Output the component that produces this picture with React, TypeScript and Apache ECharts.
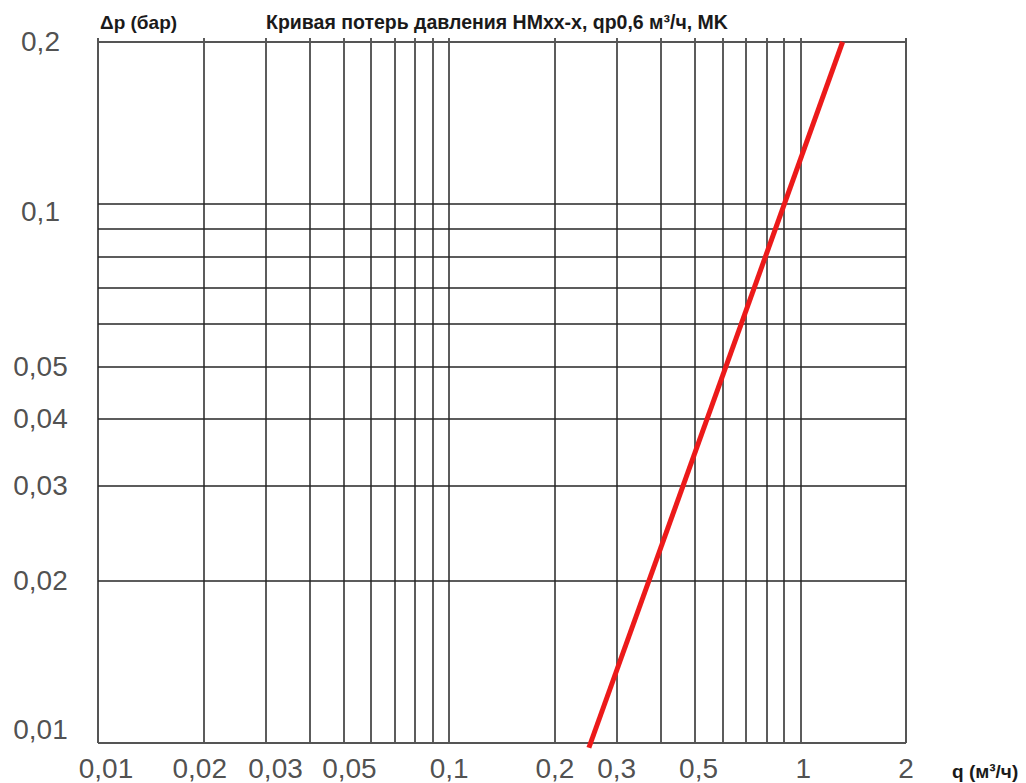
import React, { useEffect, useRef } from "react";
import * as echarts from "echarts";

// ---- data ----
const xGridValues = [0.01, 0.02, 0.03, 0.04, 0.05, 0.06, 0.07, 0.08, 0.09, 0.1, 0.2, 0.3, 0.4, 0.5, 0.6, 0.7, 0.8, 0.9, 1, 2];
const yGridValues = [0.01, 0.02, 0.03, 0.04, 0.05, 0.06, 0.07, 0.08, 0.09, 0.1, 0.2];
const xTickLabels = [0.01, 0.02, 0.03, 0.05, 0.1, 0.2, 0.3, 0.5, 1, 2];
const yTickLabels = [0.01, 0.02, 0.03, 0.04, 0.05, 0.1, 0.2];
// pressure loss curve: [q (м³/ч), Δp (бар)]
const lossCurve = [
  [0.25, 0.0098],
  [1.32, 0.2],
];
const titleText = "Кривая потерь давления HMxx-x, qp0,6 м³/ч, MK";
const yName = "Δp (бар)";
const xName = "q (м³/ч)";

// ---- style helpers ----
const FONT = "'Liberation Sans', Arial, sans-serif";
const fmt = (v: number) => String(v).replace(".", ",");
const xNudge: Record<string, number> = { "0.01": 8, "0.02": -4, "0.03": 10, "0.05": 6, "0.5": 4, "1": 3 };
const yNudge: Record<string, number> = { "0.01": -14, "0.1": 7 };

export default function App() {
  const ref = useRef<HTMLDivElement>(null);
  useEffect(() => {
    if (!ref.current) return;
    const chart = echarts.init(ref.current, undefined, { renderer: "svg" });
    const frameX = [0.01, 2];
    const frameY = [0.01, 0.2];
    const option: any = {
      animation: false,
      backgroundColor: "#ffffff",
      grid: { left: 98, right: 120, top: 38, bottom: 40, containLabel: false },
      xAxis: {
        type: "log",
        logBase: 10,
        min: 0.01,
        max: 2,
        axisLine: { show: false },
        axisTick: { show: false },
        axisLabel: { show: false },
        splitLine: { show: false },
      },
      yAxis: {
        type: "log",
        logBase: 10,
        min: 0.01,
        max: 0.2034,
        axisLine: { show: false },
        axisTick: { show: false },
        axisLabel: { show: false },
        splitLine: { show: false },
      },
      graphic: [
        {
          type: "text",
          x: 100,
          y: 22,
          style: { text: yName, font: `bold 19px ${FONT}`, fill: "#1a1a1a", verticalAlign: "middle" },
        },
        {
          type: "text",
          x: 266,
          y: 22,
          style: { text: titleText, font: `bold 19.5px ${FONT}`, fill: "#1a1a1a", verticalAlign: "middle" },
        },
        {
          type: "text",
          x: 952,
          y: 771,
          style: { text: xName, font: `bold 19px ${FONT}`, fill: "#1a1a1a", verticalAlign: "middle" },
        },
      ],
      series: [
        {
          type: "line",
          name: "grid",
          data: [[0.01, 0.01]],
          symbol: "none",
          lineStyle: { opacity: 0 },
          silent: true,
          z: 1,
          markLine: {
            silent: true,
            symbol: ["none", "none"],
            label: { show: false },
            emphasis: { disabled: true },
            data: [
              ...xGridValues.map((v) => ({
                xAxis: v,
                lineStyle: frameX.includes(v)
                  ? { color: "#555", width: 2, type: "solid" }
                  : { color: "#262626", width: 1.5, type: "solid" },
              })),
              ...yGridValues.map((v) => ({
                yAxis: v,
                lineStyle: frameY.includes(v)
                  ? { color: "#555", width: 2, type: "solid" }
                  : { color: "#262626", width: 1.5, type: "solid" },
              })),
            ],
          },
        },
        {
          type: "line",
          name: "Δp",
          data: lossCurve,
          symbol: "none",
          clip: false,
          z: 5,
          lineStyle: { color: "#ec1a1a", width: 5, cap: "butt" },
        },
        {
          type: "scatter",
          name: "xlabels",
          symbolSize: 1,
          itemStyle: { color: "transparent" },
          silent: true,
          clip: false,
          data: xTickLabels.map((v) => ({
            value: [v, 0.01],
            label: { offset: [xNudge[String(v)] || 0, 0] },
          })),
          label: {
            show: true,
            position: "bottom",
            distance: 11,
            formatter: (p: any) => fmt(p.value[0]),
            fontFamily: FONT,
            fontSize: 28,
            color: "#222",
          },
        },
        {
          type: "scatter",
          name: "ylabels",
          symbolSize: 1,
          itemStyle: { color: "transparent" },
          silent: true,
          clip: false,
          data: yTickLabels.map((v) => ({
            value: [0.01, v],
            label: { offset: [0, yNudge[String(v)] || 0] },
          })),
          label: {
            show: true,
            position: "left",
            distance: 57,
            align: "center",
            formatter: (p: any) => fmt(p.value[1]),
            fontFamily: FONT,
            fontSize: 28,
            color: "#222",
          },
        },
      ],
    };
    chart.setOption(option);
    return () => chart.dispose();
  }, []);
  return (
    <div
      ref={ref}
      style={{ position: "absolute", left: 0, top: 0, width: 1026, height: 783, background: "#fff" }}
    />
  );
}
